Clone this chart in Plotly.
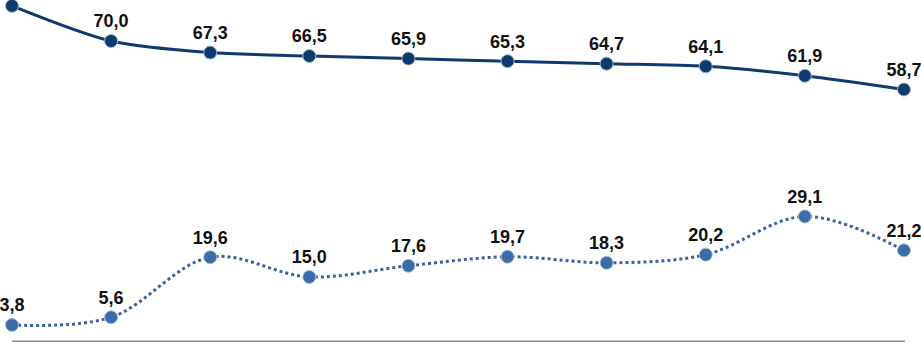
import plotly.graph_objects as go

categories = list(range(10))
series_top = [78.2, 70.0, 67.3, 66.5, 65.9, 65.3, 64.7, 64.1, 61.9, 58.7]
series_bottom = [3.8, 5.6, 19.6, 15.0, 17.6, 19.7, 18.3, 20.2, 29.1, 21.2]
labels_top = ["", "70,0", "67,3", "66,5", "65,9", "65,3", "64,7", "64,1", "61,9", "58,7"]
labels_bottom = ["3,8", "5,6", "19,6", "15,0", "17,6", "19,7", "18,3", "20,2", "29,1", "21,2"]

font = dict(family="Liberation Sans, Arial, sans-serif", size=18, color="#111111", weight="bold")

fig = go.Figure()
fig.add_trace(go.Scatter(
    x=categories, y=series_top, mode="lines+markers+text",
    text=labels_top, textposition="top center", textfont=font,
    line=dict(color="#0f3a6e", width=3, shape="spline", smoothing=0.8),
    marker=dict(size=13, color="#0f3a6e", line=dict(color="#9fb3cc", width=1)),
    cliponaxis=False, hoverinfo="skip",
))
fig.add_trace(go.Scatter(
    x=categories, y=series_bottom, mode="lines+markers+text",
    text=labels_bottom, textposition="top center", textfont=font,
    line=dict(color="#3a6399", width=3, dash="dot", shape="spline", smoothing=1.0),
    marker=dict(size=13, color="#3b6ca8", line=dict(color="#a9bfd9", width=1)),
    cliponaxis=False, hoverinfo="skip",
))
fig.add_shape(type="line", xref="x", yref="y", x0=0, x1=9.01, y0=0, y1=0,
              line=dict(color="#8a8a8a", width=1.5), layer="below")

fig.update_layout(
    width=921, height=343, margin=dict(l=0, r=0, t=0, b=0),
    paper_bgcolor="white", plot_bgcolor="white", showlegend=False,
    xaxis=dict(range=[-0.121, 9.172], visible=False, fixedrange=True),
    yaxis=dict(range=[-0.4, 79.56], visible=False, fixedrange=True),
)
fig.write_html("out.html", config={"displayModeBar": False},
               post_script="document.body.style.margin='0';document.body.style.overflow='hidden';")
